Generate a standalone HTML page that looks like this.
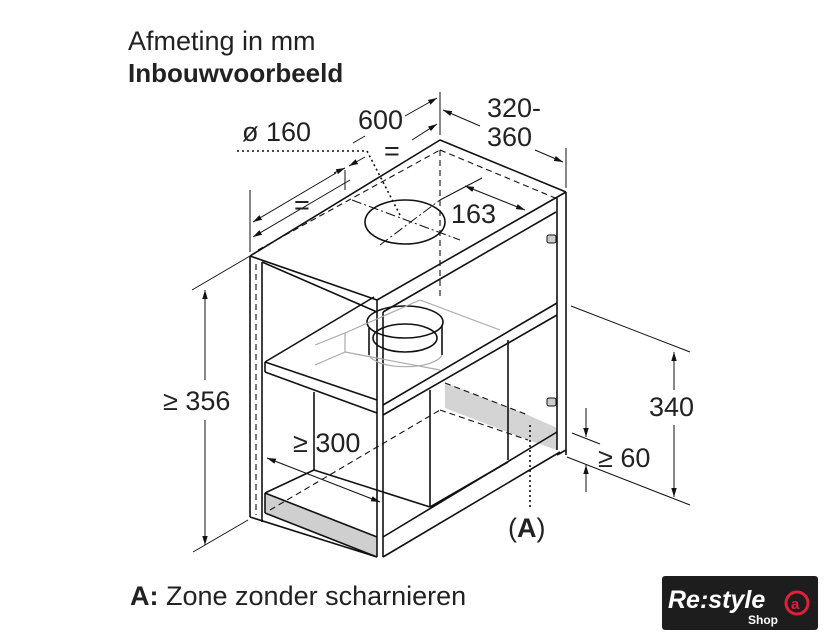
<!DOCTYPE html>
<html><head><meta charset="utf-8"><style>
html,body{margin:0;padding:0;background:#fff;}
svg{display:block;font-family:"Liberation Sans",sans-serif;}
</style></head><body>
<svg width="840" height="640" viewBox="0 0 840 640">
<defs>
<marker id="a" viewBox="0 0 10 10" refX="10" refY="5" markerWidth="9" markerHeight="9" orient="auto-start-reverse"><path d="M0,2 L10,5 L0,8 Z" fill="#111"/></marker>
</defs>
<rect width="840" height="640" fill="#fff"/>
<text x="128" y="50" font-size="27" fill="#222">Afmeting in mm</text>
<text x="128" y="82" font-size="26" font-weight="bold" fill="#222">Inbouwvoorbeeld</text>
<text x="130" y="605" font-size="27" fill="#222"><tspan font-weight="bold">A:</tspan> Zone zonder scharnieren</text>

<polygon points="265,493 377,537 377,557 265,513" fill="#cfcfcf"/>
<polygon points="445,383 528,415 528,440 445,408" fill="#d4d4d4"/>
<polygon points="528,415 557,428 557,450 528,440" fill="#d4d4d4"/>

<g stroke="#111" stroke-width="1.6" fill="none" stroke-linejoin="round">
<polyline points="250,256 440,140 566,192"/>
<line x1="250" y1="256" x2="377" y2="300"/>
<line x1="377" y1="300" x2="566" y2="192"/>
<line x1="383" y1="312" x2="556" y2="212"/>
<line x1="262" y1="262" x2="377" y2="312"/>
<line x1="250" y1="256" x2="250" y2="517"/>
<line x1="262" y1="262" x2="262" y2="522"/>
<line x1="250" y1="517" x2="377" y2="557"/>
<line x1="566" y1="192" x2="566" y2="455"/>
<line x1="557" y1="198" x2="557" y2="450"/>
<line x1="557" y1="455" x2="566" y2="450"/>
<line x1="377" y1="300" x2="377" y2="557"/>
<line x1="383" y1="312" x2="383" y2="557"/>
<line x1="265" y1="362" x2="374" y2="297"/>
<line x1="265" y1="362" x2="377" y2="400"/>
<line x1="265" y1="372" x2="377" y2="413"/>
<line x1="265" y1="362" x2="265" y2="372"/>
<line x1="383" y1="405" x2="557" y2="303"/>
<line x1="383" y1="415" x2="557" y2="315"/>
<line x1="314" y1="392" x2="314" y2="470"/>
<line x1="430" y1="390" x2="430" y2="507"/>
<line x1="508" y1="340" x2="508" y2="460"/>
<line x1="314" y1="470" x2="430" y2="507"/>
<line x1="430" y1="507" x2="508" y2="462"/>
<line x1="265" y1="493" x2="314" y2="470"/>
<line x1="265" y1="493" x2="377" y2="537"/>
<line x1="265" y1="513" x2="377" y2="557"/>
<line x1="265" y1="493" x2="265" y2="513"/>
<line x1="383" y1="537" x2="557" y2="432"/>
<line x1="383" y1="557" x2="560" y2="452"/>
<ellipse cx="405" cy="222" rx="40" ry="22"/>
<ellipse cx="405" cy="322" rx="38" ry="16"/>
<ellipse cx="405" cy="338" rx="32" ry="14"/>
<line x1="369" y1="328" x2="369" y2="355"/>
<line x1="442" y1="325" x2="442" y2="355"/>
</g>
<g stroke="#aaa" stroke-width="1.2" fill="none">
<polyline points="315,345 345,333 345,352 315,365"/>
<line x1="345" y1="333" x2="420" y2="300"/>
<line x1="345" y1="352" x2="440" y2="370"/>
<path d="M369,355 A37,14 0 0 0 442,355"/>
<line x1="420" y1="300" x2="500" y2="330"/>
</g>
<g stroke="#111" stroke-width="1.1" fill="none" stroke-dasharray="6,4">
<line x1="256" y1="264" x2="256" y2="515"/>
<line x1="258" y1="250" x2="440" y2="150"/>
<line x1="440" y1="150" x2="560" y2="200"/>
<line x1="440" y1="150" x2="440" y2="300"/>
<line x1="270" y1="510" x2="440" y2="410"/>
<line x1="440" y1="410" x2="528" y2="440"/>
<line x1="445" y1="383" x2="528" y2="415"/>
</g>
<g stroke="#111" stroke-width="1" fill="none">
<line x1="192" y1="290" x2="250" y2="256"/>
<line x1="193" y1="552" x2="248" y2="520"/>
<line x1="205" y1="290" x2="205" y2="380" marker-start="url(#a)"/>
<line x1="205" y1="420" x2="205" y2="545" marker-end="url(#a)"/>
<line x1="571" y1="306" x2="690" y2="352"/>
<line x1="567" y1="457" x2="690" y2="505"/>
<line x1="674" y1="352" x2="674" y2="390" marker-start="url(#a)"/>
<line x1="674" y1="425" x2="674" y2="497" marker-end="url(#a)"/>
<line x1="572" y1="433" x2="600" y2="444"/>
<line x1="586" y1="408" x2="586" y2="437" marker-end="url(#a)"/>
<line x1="586" y1="492" x2="586" y2="465" marker-end="url(#a)"/>
<line x1="250" y1="252" x2="250" y2="190"/>
<line x1="440" y1="135" x2="440" y2="92"/>
<line x1="566" y1="188" x2="566" y2="148"/>
<line x1="253" y1="237" x2="350" y2="180" marker-start="url(#a)"/>
<line x1="345" y1="170" x2="345" y2="190"/>
<line x1="253" y1="222" x2="336" y2="173" marker-start="url(#a)"/>
<line x1="334" y1="173" x2="345" y2="168" marker-end="url(#a)"/>
<line x1="349" y1="166" x2="365" y2="157" marker-start="url(#a)"/>
<line x1="412" y1="140" x2="437" y2="124" marker-end="url(#a)"/>
<line x1="405" y1="116" x2="437" y2="98" marker-end="url(#a)"/>
<line x1="353" y1="143" x2="365" y2="136"/>
<line x1="443" y1="110" x2="480" y2="126" marker-start="url(#a)"/>
<line x1="535" y1="150" x2="563" y2="162" marker-end="url(#a)"/>
<line x1="465" y1="186" x2="525" y2="210" marker-start="url(#a)" marker-end="url(#a)"/>
<line x1="440" y1="200" x2="482" y2="178"/>
<line x1="267" y1="458" x2="380" y2="502" marker-start="url(#a)" marker-end="url(#a)"/>
</g>
<g stroke="#111" stroke-width="1.6" fill="none" stroke-dasharray="2,3">
<polyline points="237,151 367,151 400,215"/>
<line x1="530" y1="425" x2="530" y2="510"/>
</g>
<g stroke="#111" stroke-width="1" fill="none" stroke-dasharray="10,3,2,3">
<line x1="352" y1="200" x2="460" y2="240"/>
<line x1="380" y1="245" x2="440" y2="200"/>
</g>
<g font-size="27" fill="#222">
<text x="163" y="410">≥ 356</text>
<text x="649" y="416">340</text>
<text x="598" y="467">≥ 60</text>
<text x="358" y="129">600</text>
<text x="242" y="141">ø 160</text>
<text x="487" y="117">320-</text>
<text x="487" y="146">360</text>
<text x="451" y="223">163</text>
<text x="293" y="452">≥ 300</text>
<text x="508" y="537">(<tspan font-weight="bold">A</tspan>)</text>
<text x="384" y="160">=</text>
<text x="294" y="214">=</text>
</g>
<g fill="#ccc" stroke="#111" stroke-width="1"><rect x="547" y="235" width="9" height="8" rx="2"/><rect x="547" y="398" width="9" height="8" rx="2"/></g>
<rect x="662" y="576" width="156" height="54" rx="3" fill="#1d1d1d"/>
<text x="668" y="608" font-size="25" font-style="italic" font-weight="bold" fill="#fff">Re:style</text>
<text x="748" y="624" font-size="12" font-weight="bold" fill="#fff">Shop</text>
<circle cx="797" cy="603" r="11" fill="none" stroke="#e0203a" stroke-width="3"/>
<text x="791" y="609" font-size="15" font-weight="bold" fill="#e0203a">a</text>
</svg>
</body></html>
